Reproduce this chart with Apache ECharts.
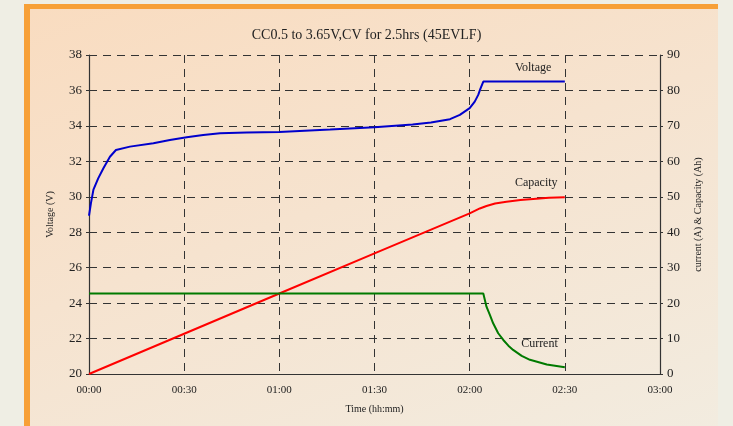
<!DOCTYPE html>
<html>
<head>
<meta charset="utf-8">
<script src="https://cdn.jsdelivr.net/npm/echarts@6/dist/echarts.min.js"></script>
<style>
  html, body { margin: 0; padding: 0; width: 733px; height: 426px; overflow: hidden; background: #efeee4; }
  #panel { position: absolute; left: 24px; top: 4px; width: 688px; height: 430px;
    border-top: 5px solid #f7a037; border-left: 6px solid #f7a037;
    background: linear-gradient(160deg, #f9dcc0 0%, #f6e3cf 45%, #f2ece0 100%); }
  #chart { position: absolute; left: 0; top: 0; width: 733px; height: 426px; }
</style>
</head>
<body>
<div id="panel"></div>
<div id="chart"></div>
<script>
// ---- Data (time in minutes) ----
const titleText = 'CC0.5 to 3.65V,CV for 2.5hrs (45EVLF)';
const timeTickLabels = ['00:00', '00:30', '01:00', '01:30', '02:00', '02:30', '03:00'];

const voltageTime   = [0, 0.6, 1.4, 2.9, 4.5, 6.6, 8.5, 12.9, 20.3, 25.5, 30.8, 36, 41.3, 49.7, 60, 76, 90, 102, 107.8, 113.8, 116.9, 120, 121.6, 122.7, 123.4, 124.3, 150];
const voltageValues = [28.93, 29.63, 30.4, 31.04, 31.6, 32.26, 32.64, 32.83, 33.02, 33.2, 33.36, 33.49, 33.58, 33.62, 33.66, 33.8, 33.93, 34.08, 34.19, 34.38, 34.62, 35.0, 35.37, 35.75, 36.1, 36.5, 36.5];

const capacityTime   = [0, 30, 60, 90, 120, 123.2, 125.3, 128, 131.6, 136, 140, 145, 150];
const capacityValues = [0, 11.35, 22.7, 34.05, 45.3, 46.7, 47.4, 48.1, 48.6, 49.1, 49.4, 49.7, 49.9];

const currentTime   = [0, 124.3, 125.3, 126.4, 127.4, 129, 130.6, 132.2, 133.7, 136.4, 139, 144.3, 150];
const currentValues = [22.7, 22.7, 19.0, 16.6, 14.3, 11.5, 9.6, 8.0, 6.8, 5.1, 4.0, 2.7, 1.9];

// label anchors: [time, value]
const voltageLabelAt  = [140, 37.3];
const capacityLabelAt = [141, 53.9];
const currentLabelAt  = [142, 8.5];

function pairs(xs, ys) { return xs.map((x, i) => [x, ys[i]]); }

const FONT = 'Liberation Serif';
const chart = echarts.init(document.getElementById('chart'), null, { renderer: 'canvas' });

function seriesLabel(name, at) {
  return {
    symbol: 'circle',
    symbolSize: 1,
    silent: true,
    itemStyle: { color: 'rgba(0,0,0,0)' },
    data: [{ coord: at, value: name }],
    label: { show: true, position: 'inside', formatter: name, color: '#222', fontFamily: FONT, fontSize: 12 }
  };
}

const option = {
  backgroundColor: 'transparent',
  animation: false,
  title: {
    text: titleText, left: 'center', top: 23,
    textStyle: { fontFamily: FONT, fontSize: 14, fontWeight: 'normal', color: '#222' }
  },
  grid: { left: 89, right: 73, top: 55, bottom: 52 },
  xAxis: {
    type: 'value', min: 0, max: 180, interval: 30,
    name: 'Time (hh:mm)', nameLocation: 'middle', nameGap: 30,
    nameTextStyle: { fontFamily: FONT, fontSize: 10, color: '#222' },
    axisLine: { show: true, lineStyle: { color: '#333', width: 1.2 } },
    axisTick: { show: false },
    axisLabel: { fontFamily: FONT, fontSize: 11, color: '#222', margin: 11,
      formatter: v => timeTickLabels[Math.round(v / 30)] },
    splitLine: { show: true, lineStyle: { color: '#333', type: [8, 6], width: 1 } }
  },
  yAxis: [
    {
      type: 'value', min: 20, max: 38, interval: 2, position: 'left',
      name: 'Voltage (V)', nameLocation: 'middle', nameGap: 34, nameRotate: 90,
      nameTextStyle: { fontFamily: FONT, fontSize: 10, color: '#222' },
      axisLine: { show: true, lineStyle: { color: '#333', width: 1.2 } },
      axisTick: { show: true, length: 3, lineStyle: { color: '#333' } },
      axisLabel: { fontFamily: FONT, fontSize: 13, color: '#222', margin: 7 },
      splitLine: { show: true, lineStyle: { color: '#333', type: [8, 6], width: 1 } }
    },
    {
      type: 'value', min: 0, max: 90, interval: 10, position: 'right',
      name: 'current (A) & Capacity (Ah)', nameLocation: 'middle', nameGap: 33, nameRotate: 90,
      nameTextStyle: { fontFamily: FONT, fontSize: 10, color: '#222' },
      axisLine: { show: true, lineStyle: { color: '#333', width: 1.2 } },
      axisTick: { show: true, length: 3, lineStyle: { color: '#333' } },
      axisLabel: { fontFamily: FONT, fontSize: 13, color: '#222', margin: 7 },
      splitLine: { show: false }
    }
  ],
  series: [
    {
      name: 'Voltage', type: 'line', yAxisIndex: 0, showSymbol: false,
      data: pairs(voltageTime, voltageValues),
      lineStyle: { color: '#0000cc', width: 2 },
      markPoint: seriesLabel('Voltage', voltageLabelAt)
    },
    {
      name: 'Capacity', type: 'line', yAxisIndex: 1, showSymbol: false,
      data: pairs(capacityTime, capacityValues),
      lineStyle: { color: '#ff0000', width: 2 },
      markPoint: seriesLabel('Capacity', capacityLabelAt)
    },
    {
      name: 'Current', type: 'line', yAxisIndex: 1, showSymbol: false,
      data: pairs(currentTime, currentValues),
      lineStyle: { color: '#007a00', width: 2 },
      markPoint: seriesLabel('Current', currentLabelAt)
    }
  ]
};
chart.setOption(option);
</script>
</body>
</html>
